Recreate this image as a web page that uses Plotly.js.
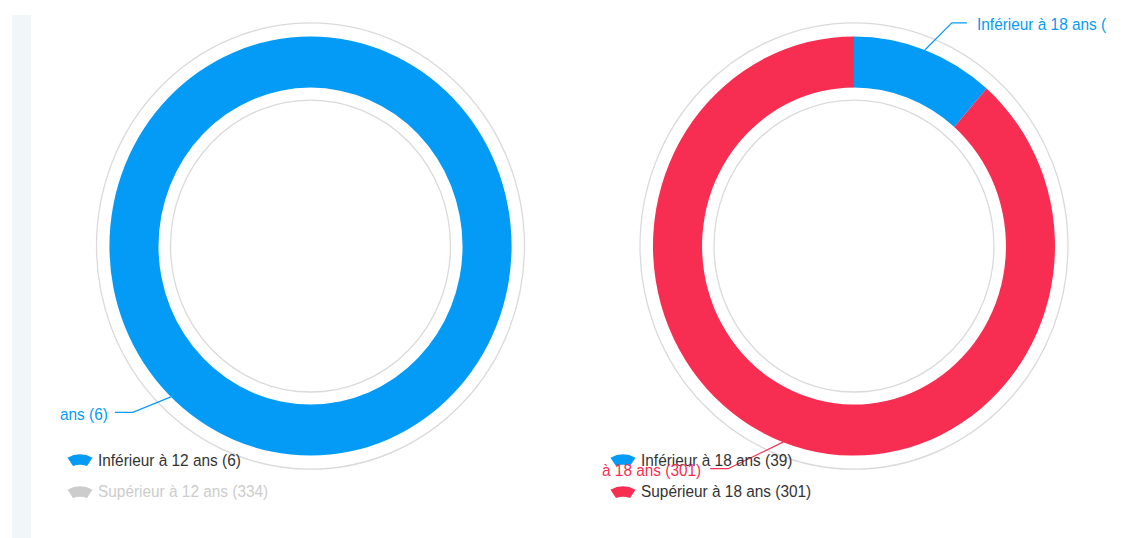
<!DOCTYPE html>
<html>
<head>
<meta charset="utf-8">
<script src="https://cdn.plot.ly/plotly-3.0.1.min.js"></script>
<style>
  html, body { margin: 0; padding: 0; background: #ffffff; width: 1128px; height: 538px; overflow: hidden; }
  #strip { position: absolute; left: 12px; top: 15px; width: 19px; height: 523px; background: #f1f7f9; }
  #stage { position: absolute; left: 0; top: 0; width: 1128px; height: 516px; transform: scaleY(1.0426); transform-origin: 0 0; }
  .box { position: absolute; top: 0; width: 505px; height: 516px; overflow: hidden; }
  #chartA { left: 60px; }
  #chartB { left: 602px; width: 506px; }
</style>
</head>
<body>
<div id="strip"></div>
<div id="stage">
  <div id="chartA" class="box"></div>
  <div id="chartB" class="box"></div>
</div>
<script>
// ---- data ----
const leftLabels = ['Inférieur à 12 ans', 'Supérieur à 12 ans'];
const leftValues = [6, 334];
const leftHidden = ['Supérieur à 12 ans'];

const rightLabels = ['Inférieur à 18 ans', 'Supérieur à 18 ans'];
const rightValues = [39, 301];
const rightHidden = [];

// ---- style ----
const BLUE = '#039bf5';
const RED = '#f72d51';
const GREY = '#cccccc';
const W = 505, H = 516;
const R_OUT = 201, HOLE = 0.756, R_RING_OUT = 214, R_RING_IN = 140;
const FONT = 'Liberation Sans, Arial, sans-serif';
const FS = 15.4;

function px(x) { return x / W; }
function py(y) { return 1 - y / H; }

function build(divId, cfg) {
  const visible = cfg.labels.map(l => !cfg.hidden.includes(l));
  const total = cfg.values.reduce((s, v, i) => s + (visible[i] ? v : 0), 0);
  let cum = 0;
  const mids = [];
  cfg.values.forEach((v, i) => {
    if (visible[i]) { mids[i] = (cum + v / 2) / total * 360; cum += v; }
  });

  const trace = {
    type: 'pie',
    labels: cfg.labels,
    values: cfg.values,
    hole: HOLE,
    sort: false,
    direction: 'clockwise',
    rotation: 0,
    marker: { colors: cfg.colors, line: { width: 0 } },
    textinfo: 'none',
    hoverinfo: 'none',
    showlegend: false,
    domain: { x: [px(cfg.cx - R_OUT), px(cfg.cx + R_OUT)], y: [py(cfg.cy + R_OUT), py(cfg.cy - R_OUT)] }
  };

  const shapes = [];
  const annotations = [];
  [R_RING_OUT, R_RING_IN].forEach(r => {
    shapes.push({
      type: 'circle', xref: 'paper', yref: 'paper',
      x0: px(cfg.cx - r), x1: px(cfg.cx + r), y0: py(cfg.cy + r), y1: py(cfg.cy - r),
      line: { color: '#dadada', width: 1.3 }, fillcolor: 'rgba(0,0,0,0)', layer: 'below'
    });
  });

  // legend (custom)
  cfg.labels.forEach((lab, i) => {
    const yc = cfg.legendY0 + i * cfg.legendDY;
    const xc = cfg.legendIconX;
    const col = visible[i] ? cfg.colors[i] : GREY;
    const pts = [[-12.5, -2], [0, -8.5], [12.5, -2], [7, 6], [0, 3.5], [-7, 6]];
    const P = pts.map(p => [px(xc + p[0]), py(yc + p[1])]);
    const path = 'M' + P[0][0] + ',' + P[0][1] +
      ' Q' + P[1][0] + ',' + P[1][1] + ' ' + P[2][0] + ',' + P[2][1] +
      ' L' + P[3][0] + ',' + P[3][1] +
      ' Q' + P[4][0] + ',' + P[4][1] + ' ' + P[5][0] + ',' + P[5][1] + ' Z';
    shapes.push({ type: 'path', xref: 'paper', yref: 'paper', path: path, fillcolor: col, line: { width: 0 } });
    annotations.push({
      xref: 'paper', yref: 'paper', x: px(cfg.legendTextX), y: py(yc), xanchor: 'left', yanchor: 'middle',
      text: lab + ' (' + cfg.values[i] + ')', showarrow: false,
      font: { family: FONT, size: FS, color: visible[i] ? '#333333' : GREY }
    });
  });

  // data labels with connectors
  cfg.labels.forEach((lab, i) => {
    if (!visible[i]) return;
    const st = cfg.labelStyle[i];
    const ang = (st.angle !== undefined ? st.angle : mids[i]) * Math.PI / 180;
    const ex = cfg.cx + R_OUT * Math.sin(ang);
    const ey = cfg.cy - R_OUT * Math.cos(ang);
    const bx = ex + st.elbow[0], by = ey + st.elbow[1];
    const hx = bx + st.seg;
    shapes.push({
      type: 'path', xref: 'paper', yref: 'paper',
      path: 'M' + px(ex) + ',' + py(ey) + ' L' + px(bx) + ',' + py(by) + ' L' + px(hx) + ',' + py(by),
      line: { color: cfg.colors[i], width: 1.2 }
    });
    const left = st.seg < 0;
    annotations.push({
      xref: 'paper', yref: 'paper', x: px(hx + (left ? -st.gap : st.gap)), y: py(by + 1.5),
      xanchor: left ? 'right' : 'left', yanchor: 'middle',
      text: lab + ' (' + cfg.values[i] + ')', showarrow: false,
      font: { family: FONT, size: FS, color: cfg.colors[i] }
    });
  });

  const layout = {
    width: W, height: H,
    margin: { l: 0, r: 0, t: 0, b: 0 },
    paper_bgcolor: 'rgba(0,0,0,0)',
    plot_bgcolor: 'rgba(0,0,0,0)',
    showlegend: false,
    hiddenlabels: cfg.hidden,
    shapes: shapes,
    annotations: annotations
  };
  Plotly.newPlot(divId, [trace], layout, { staticPlot: true, displayModeBar: false });
}

build('chartA', {
  labels: leftLabels, values: leftValues, hidden: leftHidden,
  colors: [BLUE, GREY],
  cx: 250.5, cy: 236,
  legendIconX: 20, legendTextX: 36, legendY0: 441, legendDY: 30.7,
  labelStyle: [{ angle: 224, elbow: [-38, 15], seg: -18, gap: 5 }, {}]
});

build('chartB', {
  labels: rightLabels, values: rightValues, hidden: rightHidden,
  colors: [BLUE, RED],
  cx: 252, cy: 236,
  legendIconX: 21, legendTextX: 37, legendY0: 441, legendDY: 30.7,
  labelStyle: [{ elbow: [27, -26], seg: 15, gap: 8 }, { elbow: [-55, 25.5], seg: -18, gap: 7 }]
});
</script>
</body>
</html>
